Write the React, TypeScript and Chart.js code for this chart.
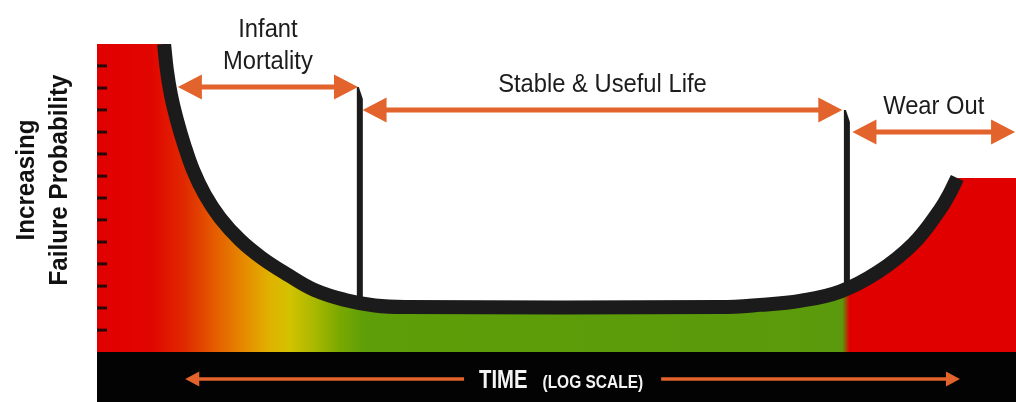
import React, { useEffect, useRef } from "react";
import { Chart, registerables } from "chart.js";

Chart.register(...registerables);

// Bathtub curve: time (log scale, 0-100) vs failure probability (0-100)
const timeValues = [0, 7.3, 7.6, 8.05, 8.7, 9.5, 10.45, 11.75, 13.4, 15.55, 17.95, 20.8, 23.7, 27.0, 30.25, 33.5, 67.8, 72.1, 76.5, 80.85, 85.0, 88.8, 91.7, 92.8, 93.6, 100];
const failureValues = [100, 100, 91.6, 83.4, 75.3, 67.2, 59.1, 51.0, 43.5, 36.4, 30.5, 25.0, 20.1, 16.9, 15.1, 14.6, 14.6, 15.3, 16.6, 19.6, 26.0, 35.1, 46.1, 51.6, 56.5, 56.5];

// Phases
const phaseLabels = [["Infant", "Mortality"], ["Stable & Useful Life"], ["Wear Out"]];
const phaseArrowStart = [8.8, 28.9, 82.2];
const phaseArrowEnd = [28.4, 81.1, 99.9];
const phaseArrowLevel = [86.0, 78.6, 71.4];

// Phase boundary markers
const boundaryTime = [28.6, 81.6];
const boundaryTop = [86.0, 78.6];
const boundaryBottom = [15.5, 20.5];

// Y axis tick marks
const yTickValues = [7.1, 14.3, 21.4, 28.6, 35.7, 42.9, 50, 57.1, 64.3, 71.4, 78.6, 85.7, 92.9];

const yAxisTitle = ["Increasing", "Failure Probability"];
const xAxisTitle = "TIME";
const xAxisSubtitle = "(LOG SCALE)";
const timeArrowRange = [9.6, 93.9];
const timeLabelCenter = 50.5;

const FONT = '"Liberation Sans", Arial, sans-serif';
const ORANGE = "#e2632b";
const CURVE = "#1c1b1b";

function arrowHead(ctx: CanvasRenderingContext2D, tipX: number, y: number, dir: number, len: number, half: number) {
  ctx.beginPath();
  ctx.moveTo(tipX, y);
  ctx.lineTo(tipX + dir * len, y - half);
  ctx.lineTo(tipX + dir * len, y + half);
  ctx.closePath();
  ctx.fill();
}

function scaledText(
  ctx: CanvasRenderingContext2D,
  text: string,
  x: number,
  y: number,
  font: string,
  sx: number,
  align: CanvasTextAlign,
  rotate = 0
) {
  ctx.save();
  ctx.font = font;
  ctx.textAlign = align;
  ctx.textBaseline = "alphabetic";
  ctx.translate(x, y);
  if (rotate) ctx.rotate(rotate);
  ctx.scale(sx, 1);
  ctx.fillText(text, 0, 0);
  ctx.restore();
}

const decorPlugin = {
  id: "bathtubDecor",
  beforeDraw(chart: any) {
    const { ctx, chartArea } = chart;
    ctx.save();
    ctx.fillStyle = "#030303";
    ctx.fillRect(chartArea.left, chartArea.bottom, chartArea.right - chartArea.left, chart.height - chartArea.bottom);
    ctx.restore();
  },
  beforeDatasetsDraw(chart: any) {
    const { ctx } = chart;
    const x = chart.scales.x;
    const y = chart.scales.y;
    ctx.save();
    ctx.fillStyle = CURVE;
    boundaryTime.forEach((b, i) => {
      const px = x.getPixelForValue(b);
      const top = y.getPixelForValue(boundaryTop[i]);
      const bottom = y.getPixelForValue(boundaryBottom[i]);
      ctx.beginPath();
      ctx.moveTo(px - 3, top);
      ctx.lineTo(px - 1, top);
      ctx.lineTo(px + 3, top + 12);
      ctx.lineTo(px + 3, bottom);
      ctx.lineTo(px - 3, bottom);
      ctx.closePath();
      ctx.fill();
    });
    ctx.restore();
  },
  afterDatasetsDraw(chart: any) {
    const { ctx, chartArea } = chart;
    const x = chart.scales.x;
    const y = chart.scales.y;
    ctx.save();
    // tick marks inside the left edge
    ctx.fillStyle = "#2a0808";
    yTickValues.forEach((v) => {
      const py = y.getPixelForValue(v);
      ctx.fillRect(chartArea.left, py - 1.5, 10, 3);
    });
    // phase arrows + labels
    ctx.fillStyle = ORANGE;
    ctx.strokeStyle = ORANGE;
    ctx.lineWidth = 5;
    phaseArrowStart.forEach((s, i) => {
      const x1 = x.getPixelForValue(s);
      const x2 = x.getPixelForValue(phaseArrowEnd[i]);
      const py = y.getPixelForValue(phaseArrowLevel[i]);
      ctx.beginPath();
      ctx.moveTo(x1 + 20, py);
      ctx.lineTo(x2 - 20, py);
      ctx.stroke();
      arrowHead(ctx, x1, py, 1, 24, 12.5);
      arrowHead(ctx, x2, py, -1, 24, 12.5);
    });
    ctx.fillStyle = "#1c1c1c";
    phaseLabels.forEach((lines, i) => {
      const cx = (x.getPixelForValue(phaseArrowStart[i]) + x.getPixelForValue(phaseArrowEnd[i])) / 2;
      const base = y.getPixelForValue(phaseArrowLevel[i]) - 18;
      lines.forEach((ln, j) => {
        scaledText(ctx, ln, cx, base - (lines.length - 1 - j) * 32, `25px ${FONT}`, 0.95, "center");
      });
    });
    ctx.restore();
  },
  afterDraw(chart: any) {
    const { ctx } = chart;
    const x = chart.scales.x;
    ctx.save();
    // y axis title (rotated)
    ctx.fillStyle = "#111";
    const cy = 180;
    const baselines = [34, 67];
    yAxisTitle.forEach((t, i) => {
      scaledText(ctx, t, baselines[i], cy, `bold 26px ${FONT}`, 0.93, "center", -Math.PI / 2);
    });
    // x axis title in the black band
    const baseY = 388;
    const arrowY = 379;
    const f1 = `bold 26px ${FONT}`;
    const f2 = `bold 18px ${FONT}`;
    const s1 = 0.78;
    const s2 = 0.86;
    ctx.font = f1;
    const w1 = ctx.measureText(xAxisTitle).width * s1;
    ctx.font = f2;
    const w2 = ctx.measureText(xAxisSubtitle).width * s2;
    const gap = 15;
    const total = w1 + gap + w2;
    const cx = x.getPixelForValue(timeLabelCenter);
    const startX = cx - total / 2;
    ctx.fillStyle = "#f4f4f4";
    scaledText(ctx, xAxisTitle, startX, baseY, f1, s1, "left");
    scaledText(ctx, xAxisSubtitle, startX + w1 + gap, baseY, f2, s2, "left");
    // time arrows
    ctx.strokeStyle = ORANGE;
    ctx.fillStyle = ORANGE;
    ctx.lineWidth = 3.5;
    const lx = x.getPixelForValue(timeArrowRange[0]);
    const rx = x.getPixelForValue(timeArrowRange[1]);
    ctx.beginPath();
    ctx.moveTo(lx + 10, arrowY);
    ctx.lineTo(startX - 15, arrowY);
    ctx.moveTo(startX + total + 18, arrowY);
    ctx.lineTo(rx - 10, arrowY);
    ctx.stroke();
    arrowHead(ctx, lx, arrowY, 1, 14, 7.5);
    arrowHead(ctx, rx, arrowY, -1, 14, 7.5);
    ctx.restore();
  },
};

export default function App() {
  const ref = useRef<HTMLCanvasElement>(null);
  useEffect(() => {
    const canvas = ref.current;
    if (!canvas) return;
    const points = timeValues.map((t, i) => ({ x: t, y: failureValues[i] }));
    const curvePoints = points.slice(1, points.length - 1);
    const chart = new Chart(canvas, {
      type: "line",
      data: {
        datasets: [
          {
            label: "Failure probability",
            data: curvePoints,
            borderColor: CURVE,
            borderWidth: 14,
            borderCapStyle: "butt",
            borderJoinStyle: "round",
            tension: 0.4,
            pointRadius: 0,
            fill: false,
          } as any,
          {
            label: "Failure zone",
            data: points,
            borderWidth: 0,
            tension: 0,
            pointRadius: 0,
            fill: "origin",
            backgroundColor: (c: any) => {
              const ca = c.chart.chartArea;
              if (!ca) return "#5a9b0e";
              const g = c.chart.ctx.createLinearGradient(ca.left, 0, ca.right, 0);
              const stops: [number, string][] = [
                [0, "#e10000"],
                [0.058, "#e10500"],
                [0.096, "#e02a00"],
                [0.128, "#e45c00"],
                [0.161, "#e68c00"],
                [0.188, "#e0b200"],
                [0.21, "#d2c200"],
                [0.237, "#a8b800"],
                [0.264, "#7aa800"],
                [0.292, "#5e9e08"],
                [0.811, "#5a9a0c"],
                [0.819, "#e00000"],
                [1, "#e00000"],
              ];
              stops.forEach(([p, col]) => g.addColorStop(p, col));
              return g;
            },
          } as any,
        ],
      },
      options: {
        responsive: false,
        animation: false,
        events: [],
        layout: { padding: { left: 97, right: 0, top: 44, bottom: 50 } },
        scales: {
          x: { type: "linear", min: 0, max: 100, display: false },
          y: { type: "linear", min: 0, max: 100, display: false },
        },
        plugins: { legend: { display: false }, tooltip: { enabled: false }, title: { display: false } },
      },
      plugins: [decorPlugin as any],
    });
    return () => chart.destroy();
  }, []);
  return (
    <div style={{ position: "absolute", left: 0, top: 0, width: 1016, height: 402, background: "#fff" }}>
      <canvas ref={ref} width={1016} height={402} style={{ display: "block", width: 1016, height: 402 }} />
    </div>
  );
}
